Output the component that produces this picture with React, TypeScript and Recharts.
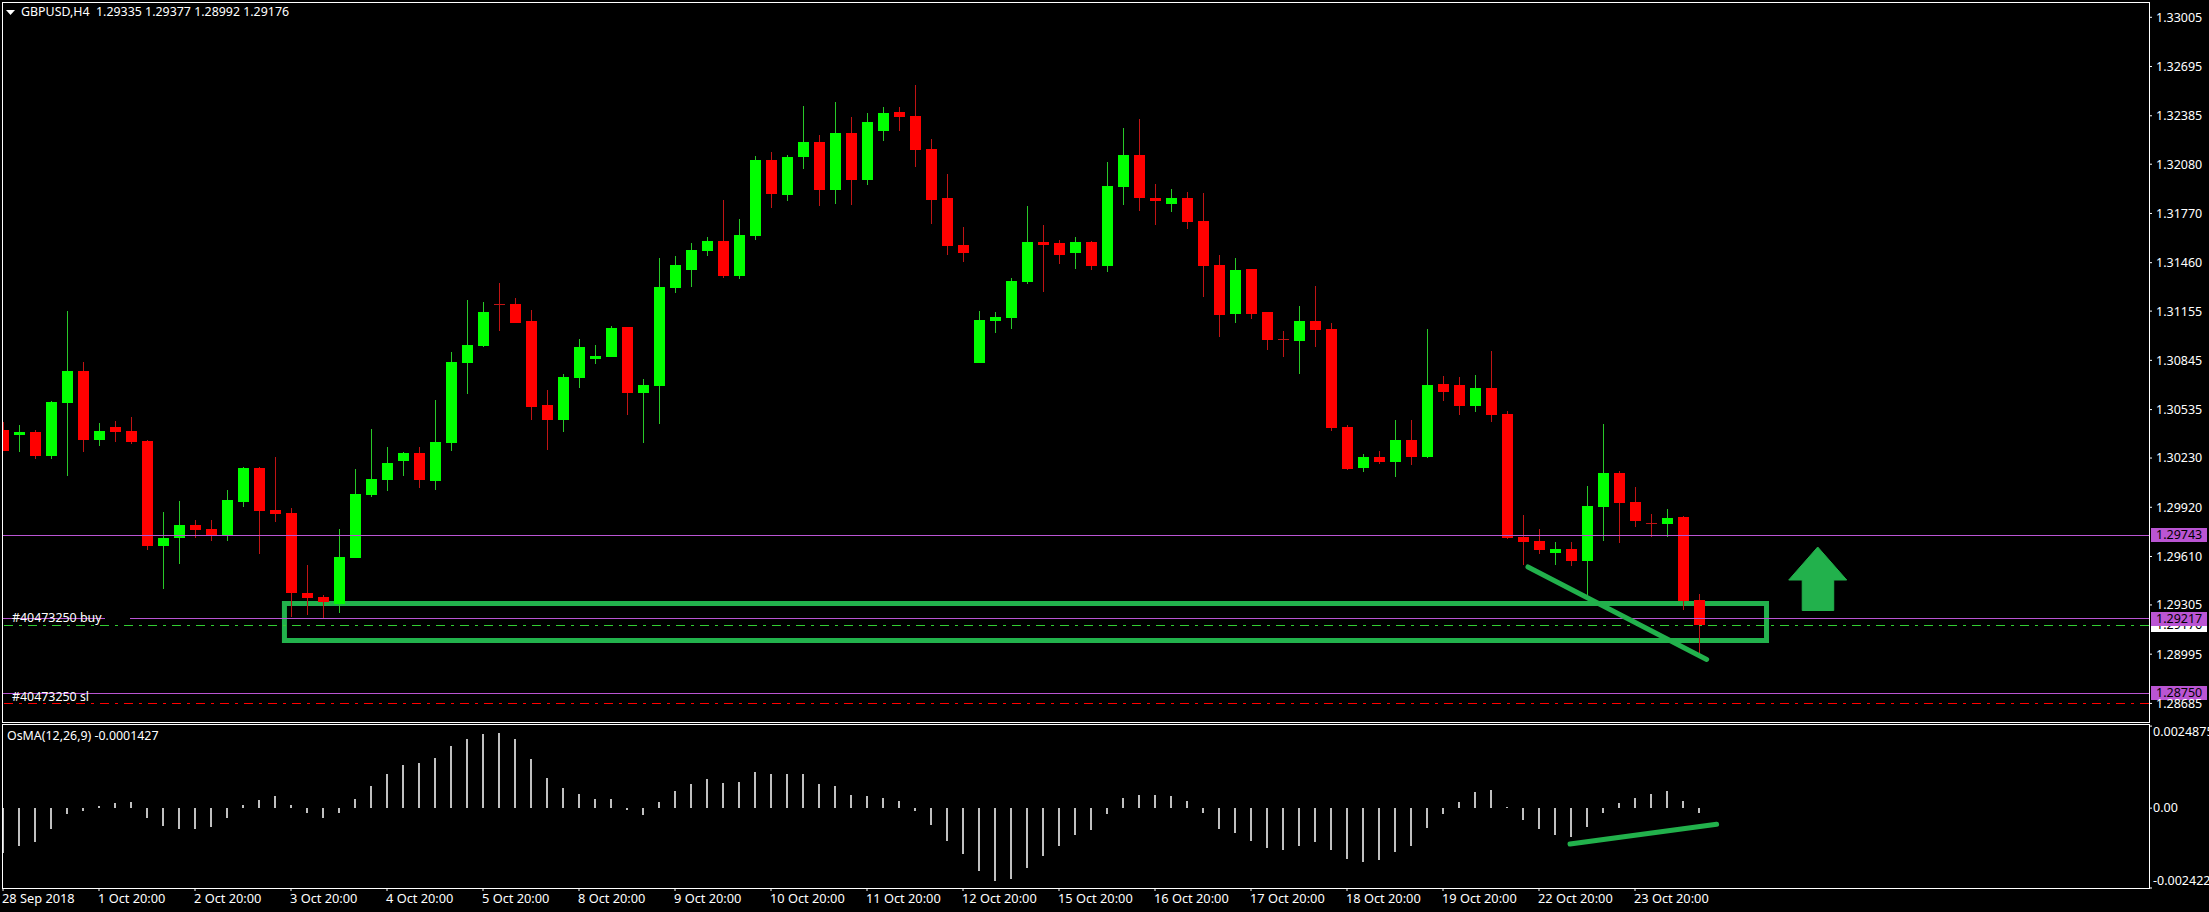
import { Bar, ComposedChart, ReferenceArea, ReferenceDot, ReferenceLine, XAxis, YAxis } from "recharts";

const opens = [
  1.30406, 1.30377, 1.30393, 1.30244, 1.30578, 1.30778, 1.30345, 1.30425, 1.304, 1.30337,
  1.29677, 1.29728, 1.29807, 1.29782, 1.29744, 1.29954, 1.30167, 1.29902, 1.29883, 1.29379,
  1.29354, 1.29314, 1.29602, 1.29999, 1.30093, 1.30213, 1.30261, 1.30087, 1.30326, 1.3083,
  1.30937, 1.312, 1.312, 1.31093, 1.30563, 1.3047, 1.30735, 1.30854, 1.30867, 1.31054,
  1.3064, 1.30684, 1.31302, 1.31415, 1.31535, 1.31596, 1.31377, 1.31629, 1.32106, 1.31888,
  1.32127, 1.32219, 1.31919, 1.32276, 1.31982, 1.32291, 1.32408, 1.32383, 1.32175, 1.31867,
  1.3157, 1.30829, 1.31094, 1.31113, 1.31339, 1.31589, 1.31583, 1.31522, 1.31589, 1.3144,
  1.31938, 1.32137, 1.31867, 1.31831, 1.31867, 1.31722, 1.31444, 1.31138, 1.31419, 1.31148,
  1.30978, 1.30968, 1.31092, 1.31041, 1.30424, 1.30168, 1.30235, 1.30206, 1.30343, 1.30238,
  1.30696, 1.30689, 1.30559, 1.30671, 1.30507, 1.29732, 1.29707, 1.29633, 1.29656, 1.29583,
  1.29923, 1.30135, 1.29952, 1.2982, 1.29816, 1.29858, 1.29335,
];
const highs = [
  1.30454, 1.30435, 1.30406, 1.30589, 1.31156, 1.30834, 1.3045, 1.30463, 1.30488, 1.30343,
  1.29889, 1.29959, 1.29839, 1.29839, 1.30028, 1.30173, 1.30173, 1.30236, 1.29915, 1.29555,
  1.29366, 1.29782, 1.3016, 1.30412, 1.30299, 1.30267, 1.30299, 1.30595, 1.30897, 1.31225,
  1.31212, 1.31332, 1.31238, 1.31162, 1.30658, 1.30758, 1.30978, 1.3094, 1.3106, 1.31054,
  1.30726, 1.31489, 1.31501, 1.31583, 1.31621, 1.31854, 1.31734, 1.32131, 1.32156, 1.32137,
  1.32446, 1.32263, 1.32471, 1.32377, 1.32402, 1.3244, 1.3244, 1.32578, 1.32238, 1.32018,
  1.31684, 1.31155, 1.31148, 1.31363, 1.31816, 1.31696, 1.31602, 1.31621, 1.31596, 1.32093,
  1.32308, 1.32364, 1.31955, 1.31923, 1.31904, 1.31898, 1.31507, 1.31489, 1.31419, 1.31148,
  1.31029, 1.31186, 1.31312, 1.31079, 1.30436, 1.30254, 1.30273, 1.30469, 1.30469, 1.31042,
  1.30746, 1.3074, 1.30752, 1.30904, 1.30526, 1.2987, 1.29782, 1.297, 1.297, 1.30053,
  1.30444, 1.30148, 1.30047, 1.29877, 1.29908, 1.29864, 1.29377,
];
const lows = [
  1.30276, 1.30269, 1.30225, 1.30225, 1.30118, 1.30269, 1.30307, 1.30332, 1.3032, 1.29652,
  1.29406, 1.29564, 1.29728, 1.29709, 1.29709, 1.29923, 1.29627, 1.29828, 1.2923, 1.29243,
  1.29217, 1.29255, 1.29602, 1.29986, 1.30024, 1.30118, 1.30043, 1.3003, 1.30276, 1.30635,
  1.30931, 1.31032, 1.31082, 1.30471, 1.30282, 1.30394, 1.30672, 1.30823, 1.30867, 1.30502,
  1.30325, 1.30445, 1.3127, 1.31308, 1.31503, 1.31365, 1.31358, 1.31604, 1.31806, 1.3185,
  1.32051, 1.31818, 1.31831, 1.31825, 1.31951, 1.32228, 1.32291, 1.32064, 1.31705, 1.3151,
  1.31465, 1.30829, 1.31018, 1.31043, 1.31327, 1.31276, 1.31453, 1.31421, 1.31415, 1.31402,
  1.31825, 1.31787, 1.31699, 1.3178, 1.31673, 1.31245, 1.30993, 1.31081, 1.31106, 1.30911,
  1.30867, 1.3076, 1.3093, 1.30401, 1.30155, 1.30142, 1.30193, 1.30112, 1.30188, 1.30232,
  1.30591, 1.30503, 1.30521, 1.30458, 1.29721, 1.29558, 1.29627, 1.29558, 1.29551, 1.29356,
  1.29709, 1.29696, 1.29797, 1.29734, 1.29734, 1.29274, 1.28992,
];
const closes = [
  1.30276, 1.30393, 1.30244, 1.30582, 1.30778, 1.30345, 1.304, 1.30393, 1.30332, 1.29677,
  1.29726, 1.29807, 1.29778, 1.29744, 1.29965, 1.30167, 1.29898, 1.29879, 1.29381, 1.2935,
  1.29322, 1.29606, 1.30003, 1.30097, 1.30198, 1.30261, 1.30093, 1.3033, 1.30834, 1.30941,
  1.31149, 1.31196, 1.31082, 1.30553, 1.30471, 1.30739, 1.30928, 1.30871, 1.31048, 1.3064,
  1.30688, 1.31306, 1.31444, 1.31539, 1.31596, 1.31377, 1.31633, 1.32106, 1.31894, 1.32125,
  1.32219, 1.31919, 1.32276, 1.31982, 1.32345, 1.32402, 1.32379, 1.32171, 1.31856, 1.31566,
  1.31522, 1.31098, 1.31117, 1.31344, 1.31589, 1.31573, 1.3151, 1.31589, 1.3144, 1.31942,
  1.32137, 1.31869, 1.3185, 1.31867, 1.31717, 1.3144, 1.31132, 1.31413, 1.31138, 1.30974,
  1.30974, 1.31092, 1.31037, 1.3042, 1.30161, 1.30235, 1.30205, 1.30343, 1.30238, 1.30689,
  1.30647, 1.30559, 1.30671, 1.30503, 1.29728, 1.29702, 1.29652, 1.29656, 1.29583, 1.29927,
  1.30135, 1.29948, 1.29835, 1.29816, 1.29852, 1.29331, 1.29176,
];
const osma = [
  -0.001353, -0.001151, -0.00103, -0.000636, -0.000182, -0.000091, 0.000061, 0.000152, 0.000182, -0.000303,
  -0.000545, -0.000636, -0.000636, -0.000576, -0.000303, 0.000091, 0.000242, 0.000364, 0.000091, -0.000152,
  -0.000303, -0.000152, 0.000273, 0.000667, 0.00103, 0.001303, 0.001364, 0.001515, 0.001879, 0.002091,
  0.002242, 0.002273, 0.002091, 0.001485, 0.000909, 0.000606, 0.000424, 0.000273, 0.000273, -0.000061,
  -0.000212, 0.000182, 0.000515, 0.000727, 0.000879, 0.000758, 0.000788, 0.001091, 0.00103, 0.00103,
  0.00103, 0.000727, 0.000667, 0.000394, 0.000364, 0.000303, 0.000212, -0.000091, -0.000515, -0.001,
  -0.001394, -0.001909, -0.002212, -0.002151, -0.001818, -0.001454, -0.001151, -0.000818, -0.000667, -0.000182,
  0.000303, 0.000394, 0.000394, 0.000364, 0.000212, -0.000152, -0.000636, -0.000758, -0.001, -0.001212,
  -0.001273, -0.001151, -0.00103, -0.001273, -0.001545, -0.001636, -0.001576, -0.001333, -0.001151, -0.000606,
  -0.000182, 0.000182, 0.000485, 0.000545, 0.00002, -0.000364, -0.000636, -0.000818, -0.000879, -0.000576,
  -0.000152, 0.000152, 0.000303, 0.000424, 0.000515, 0.000212, -0.0001427,
];

const priceTicks = [
  1.33005, 1.32695, 1.32385, 1.3208, 1.3177, 1.3146, 1.31155, 1.30845, 1.30535, 1.3023, 1.2992, 1.2961, 1.29305, 1.28995,
  1.28685,
];
const osmaTicks = [0.0024875, 0, -0.002422];
const timeTicks = [0, 6, 12, 18, 24, 30, 36, 42, 48, 54, 60, 66, 72, 78, 84, 90, 96, 102];
const timeLabels = [
  "28 Sep 2018", "1 Oct 20:00", "2 Oct 20:00", "3 Oct 20:00", "4 Oct 20:00", "5 Oct 20:00", "8 Oct 20:00", "9 Oct 20:00",
  "10 Oct 20:00", "11 Oct 20:00", "12 Oct 20:00", "15 Oct 20:00", "16 Oct 20:00", "17 Oct 20:00", "18 Oct 20:00",
  "19 Oct 20:00", "22 Oct 20:00", "23 Oct 20:00",
];

const candles = opens.map((open, i) => ({ i, open, high: highs[i], low: lows[i], close: closes[i], osma: osma[i] }));

const FONT = "'Noto Sans', sans-serif";
const AXIS_FONT_SIZE = 12.5;
const AXIS_MAX = 134.125; // bars are 16px apart
const PAINT_GREEN = "#22b14c";
const PURPLE = "#ba55d3";

const CandleShape = (props: any) => {
  const { x, y, width, height, payload } = props;
  const cx = Math.round(x + width / 2);
  const perPrice = height / (payload.high - payload.low);
  const up = payload.close >= payload.open;
  const top = Math.round(y + (payload.high - Math.max(payload.open, payload.close)) * perPrice);
  const bottom = Math.round(y + (payload.high - Math.min(payload.open, payload.close)) * perPrice);
  return (
    <g shapeRendering="crispEdges">
      <rect x={cx} y={y} width={1} height={height} fill={up ? "#28c828" : "#c01414"} />
      <rect
        x={cx - 5}
        y={top}
        width={11}
        height={Math.max(bottom - top, 1)}
        fill={bottom - top < 2 ? (up ? "#28c828" : "#c01414") : up ? "#00ff00" : "#ff0000"}
      />
    </g>
  );
};

const OsmaShape = (props: any) => {
  const { x, y, width, height } = props;
  const cx = Math.round(x + width / 2);
  return (
    <rect
      x={cx - 1}
      y={Math.min(y, y + height)}
      width={2}
      height={Math.max(Math.abs(height), 1)}
      fill="#c0c0c0"
      shapeRendering="crispEdges"
    />
  );
};

const ArrowShape = ({ cx, cy }: any) => {
  const pts = [
    [0, -33],
    [29, 0],
    [16, 0],
    [16, 30.5],
    [-15.5, 30.5],
    [-15.5, 0],
    [-29, 0],
  ];
  return (
    <polygon
      points={pts.map(([a, b]) => `${cx + a},${cy + b}`).join(" ")}
      fill={PAINT_GREEN}
      stroke={PAINT_GREEN}
      strokeWidth={1}
      strokeLinejoin="round"
    />
  );
};

const priceTag = (text: string, bg: string) => (props: any) => {
  const y = Math.round(props.viewBox.y);
  return (
    <g>
      <rect x={2151} y={y - 7} width={56} height={14} fill={bg} />
      <text x={2156} y={y + 4} fontFamily={FONT} fontSize={AXIS_FONT_SIZE} fill="#000">
        {text}
      </text>
    </g>
  );
};

const TimeTick = ({ x, y, payload }: any) => (
  <text x={x - 1} y={y + 12} fontFamily={FONT} fontSize={12.8} fill="#fff">
    {timeLabels[timeTicks.indexOf(payload.value)]}
  </text>
);

const OsmaTick = ({ y, payload }: any) => {
  const v = payload.value;
  const shift = v > 0 ? 10 : v < 0 ? -3 : 4;
  return (
    <text x={2153} y={y + shift} fontFamily={FONT} fontSize={AXIS_FONT_SIZE} fill="#fff">
      {v === 0 ? "0.00" : String(v)}
    </text>
  );
};

const textStyle = {
  position: "absolute" as const,
  fontFamily: FONT,
  fontSize: 12.4,
  lineHeight: "14px",
  color: "#fff",
  whiteSpace: "pre" as const,
};

export default function App() {
  return (
    <div style={{ position: "absolute", left: 0, top: 0, width: 2209, height: 912, background: "#000", overflow: "hidden" }}>
      <div style={{ position: "absolute", left: 0, top: 0 }}>
        <ComposedChart width={2209} height={723} data={candles} margin={{ top: 3, left: 3, right: 0, bottom: 1 }}>
          <XAxis dataKey="i" type="number" domain={[0, AXIS_MAX]} allowDataOverflow hide ticks={timeTicks} />
          <YAxis
            orientation="right"
            width={60}
            domain={[1.28568, 1.33095]}
            ticks={priceTicks}
            interval={0}
            axisLine={false}
            tickSize={3}
            tickMargin={4}
            tickLine={{ stroke: "#fff" }}
            tick={{ fill: "#fff", fontSize: AXIS_FONT_SIZE, fontFamily: FONT }}
            tickFormatter={(v: number) => v.toFixed(5)}
          />
          <Bar dataKey={(d: any) => [d.low, d.high]} barSize={11} shape={CandleShape} isAnimationActive={false} />
          <ReferenceLine y={1.29176} stroke="#32cd32" strokeDasharray="9 6 3 6" shapeRendering="crispEdges" label={priceTag("1.29176", "#fff")} />
          <ReferenceLine y={1.28685} stroke="#ff0000" strokeDasharray="9 6 3 6" shapeRendering="crispEdges" />
          <ReferenceLine y={1.29743} stroke={PURPLE} shapeRendering="crispEdges" label={priceTag("1.29743", PURPLE)} />
          <ReferenceLine
            segment={[
              { x: 0, y: 1.29217 },
              { x: 6.375, y: 1.29217 },
            ]}
            stroke={PURPLE}
            shapeRendering="crispEdges"
          />
          <ReferenceLine
            segment={[
              { x: 7.94, y: 1.29217 },
              { x: AXIS_MAX, y: 1.29217 },
            ]}
            stroke={PURPLE}
            shapeRendering="crispEdges"
          />
          <ReferenceLine y={1.29217} stroke="none" label={priceTag("1.29217", PURPLE)} />
          <ReferenceLine y={1.2875} stroke={PURPLE} shapeRendering="crispEdges" label={priceTag("1.28750", PURPLE)} />
          <ReferenceArea
            x1={17.59}
            x2={110.22}
            y1={1.29081}
            y2={1.29314}
            fill="none"
            fillOpacity={0}
            stroke={PAINT_GREEN}
            strokeWidth={5}
          />
          <ReferenceLine
            segment={[
              { x: 95.31, y: 1.29544 },
              { x: 106.48, y: 1.28962 },
            ]}
            stroke={PAINT_GREEN}
            strokeWidth={5}
            strokeLinecap="round"
          />
          <ReferenceDot x={113.42} y={1.29462} shape={ArrowShape} />
        </ComposedChart>
      </div>

      <div style={{ position: "absolute", left: 0, top: 725 }}>
        <ComposedChart width={2209} height={187} data={candles} margin={{ top: 0, left: 3, right: 0, bottom: 0 }}>
          <XAxis
            dataKey="i"
            type="number"
            domain={[0, AXIS_MAX]}
            allowDataOverflow
            ticks={timeTicks}
            interval={0}
            height={24}
            axisLine={false}
            tickSize={3}
            tickMargin={0}
            tickLine={{ stroke: "#fff" }}
            tick={TimeTick}
          />
          <YAxis
            orientation="right"
            width={60}
            domain={[-0.002422, 0.002521]}
            ticks={osmaTicks}
            interval={0}
            axisLine={false}
            tickSize={3}
            tickLine={{ stroke: "#fff" }}
            tick={OsmaTick}
          />
          <Bar dataKey="osma" barSize={2} shape={OsmaShape} isAnimationActive={false} />
          <ReferenceLine
            segment={[
              { x: 97.94, y: -0.00109 },
              { x: 107.1, y: -0.00049 },
            ]}
            stroke={PAINT_GREEN}
            strokeWidth={5}
            strokeLinecap="round"
          />
        </ComposedChart>
      </div>

      <div style={{ position: "absolute", left: 2, top: 2, width: 2148, height: 721, boxSizing: "border-box", border: "1px solid #fff" }} />
      <div style={{ position: "absolute", left: 2, top: 724, width: 2148, height: 165, boxSizing: "border-box", border: "1px solid #fff" }} />

      <svg style={{ position: "absolute", left: 6, top: 10 }} width={10} height={6}>
        <polygon points="0,0 9,0 4.5,5" fill="#fff" />
      </svg>
      <div style={{ ...textStyle, left: 21, top: 5 }}>GBPUSD,H4  1.29335 1.29377 1.28992 1.29176</div>
      <div style={{ ...textStyle, left: 7, top: 729 }}>OsMA(12,26,9) -0.0001427</div>
      <div style={{ ...textStyle, left: 12, top: 611 }}>#40473250 buy</div>
      <div style={{ ...textStyle, left: 12, top: 690 }}>#40473250 sl</div>
    </div>
  );
}
